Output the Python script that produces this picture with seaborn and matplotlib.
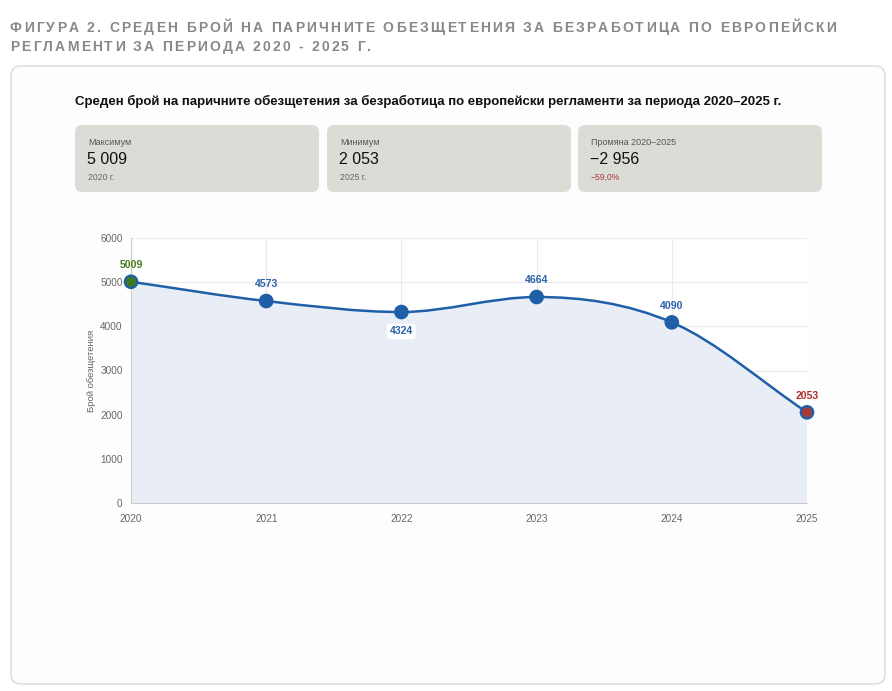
import numpy as np
import pandas as pd
import matplotlib
matplotlib.use("Agg")
import matplotlib.pyplot as plt
from matplotlib.patches import FancyBboxPatch, PathPatch
from matplotlib.path import Path
import seaborn as sns

# ---- data ----
years = [2020, 2021, 2022, 2023, 2024, 2025]
values = [5009, 4573, 4324, 4664, 4090, 2053]
point_kind = ["max", "mid", "mid", "mid", "mid", "min"]

fig_title = ["ФИГУРА 2. СРЕДЕН БРОЙ НА ПАРИЧНИТЕ ОБЕЗЩЕТЕНИЯ ЗА БЕЗРАБОТИЦА ПО ЕВРОПЕЙСКИ",
             "РЕГЛАМЕНТИ ЗА ПЕРИОДА 2020 - 2025 Г."]
chart_title = "Среден брой на паричните обезщетения за безработица по европейски регламенти за периода 2020–2025 г."
kpi_labels = ["Максимум", "Минимум", "Промяна 2020–2025"]
kpi_values = ["5 009", "2 053", "−2 956"]
kpi_notes = ["2020 г.", "2025 г.", "−59,0%"]
y_label = "Брой обезщетения"

sns.set_theme(style="white")
plt.rcParams["font.family"] = ["Liberation Sans", "DejaVu Sans"]

W, H = 892, 691
fig = plt.figure(figsize=(W / 100, H / 100), dpi=100)
fig.patch.set_facecolor("white")


def fx(x):
    return x / W


def fy(y):
    return 1 - y / H


BLUE = "#1f5fa8"
GREEN = "#3d7a1f"
RED = "#a83a3a"

# ---- header with letter spacing ----
renderer = fig.canvas.get_renderer()


def spaced_text(x0, y0, s, size, spacing, **kw):
    x = x0
    for ch in s:
        t = fig.text(fx(x), fy(y0), ch, fontsize=size, va="baseline", ha="left", **kw)
        if ch == " ":
            w = size / 0.72 * 0.28
        else:
            w = t.get_window_extent(renderer).width
        x += w + spacing


spaced_text(10, 32, fig_title[0], 10, 2.2, color="#888888", fontweight="bold")
spaced_text(10, 51, fig_title[1], 10, 2.2, color="#888888", fontweight="bold")

# ---- card ----
card = FancyBboxPatch((fx(11), fy(684)), fx(874), 618 / H,
                      boxstyle="round,pad=0,rounding_size=0.011",
                      transform=fig.transFigure, facecolor="#fdfdfd",
                      edgecolor="#d9d9d9", linewidth=1.0, mutation_aspect=W / H,
                      zorder=-2)
fig.patches.append(card)

fig.text(fx(75), fy(105), chart_title, fontsize=9.5, fontweight="bold", color="#111111")

# ---- KPI boxes ----
box_x = [75, 327, 578]
for i in range(3):
    b = FancyBboxPatch((fx(box_x[i]), fy(192)), fx(244), 67 / H,
                       boxstyle="round,pad=0,rounding_size=0.008",
                       transform=fig.transFigure, facecolor="#dcdcd6",
                       edgecolor="none", mutation_aspect=W / H, zorder=-1)
    fig.patches.append(b)
    fig.text(fx(box_x[i] + 13), fy(145), kpi_labels[i], fontsize=6.5, color="#555555")
    fig.text(fx(box_x[i] + 12), fy(164), kpi_values[i], fontsize=11.5, color="#111111")
    fig.text(fx(box_x[i] + 13), fy(180), kpi_notes[i], fontsize=6.2,
             color=RED if i == 2 else "#666666")

# ---- chart ----
ax = fig.add_axes([fx(131), fy(503), fx(676), 265 / H])
ax.set_facecolor("white")
ax.set_xlim(years[0], years[-1])
ax.set_ylim(0, 6000)

# monotone cubic path (Chart.js style)
xs = np.array(years, dtype=float)
ys = np.array(values, dtype=float)
d = np.diff(ys) / np.diff(xs)
m = np.zeros(len(xs))
m[0], m[-1] = d[0], d[-1]
for k in range(1, len(xs) - 1):
    m[k] = 0 if d[k - 1] * d[k] <= 0 else (d[k - 1] + d[k]) / 2
for k in range(len(d)):
    if d[k] == 0:
        m[k] = m[k + 1] = 0
        continue
    a, b = m[k] / d[k], m[k + 1] / d[k]
    if a * a + b * b > 9:
        tau = 3 / np.sqrt(a * a + b * b)
        m[k], m[k + 1] = tau * a * d[k], tau * b * d[k]

verts = [(xs[0], ys[0])]
codes = [Path.MOVETO]
for k in range(len(d)):
    dx = (xs[k + 1] - xs[k]) / 3
    verts += [(xs[k] + dx, ys[k] + m[k] * dx),
              (xs[k + 1] - dx, ys[k + 1] - m[k + 1] * dx),
              (xs[k + 1], ys[k + 1])]
    codes += [Path.CURVE4] * 3

fill_verts = verts + [(xs[-1], 0), (xs[0], 0), (xs[0], ys[0])]
fill_codes = codes + [Path.LINETO, Path.LINETO, Path.CLOSEPOLY]
ax.add_patch(PathPatch(Path(fill_verts, fill_codes), facecolor="#e9eef6",
                       edgecolor="none", zorder=1))
ax.add_patch(PathPatch(Path(verts, codes), facecolor="none", edgecolor=BLUE,
                       linewidth=1.8, zorder=3))

df = pd.DataFrame({"year": years, "value": values, "kind": point_kind})
sns.scatterplot(data=df, x="year", y="value", hue="kind",
                palette={"max": GREEN, "mid": BLUE, "min": RED},
                s=80, edgecolor=BLUE, linewidth=1.6, legend=False,
                zorder=4, clip_on=False, ax=ax)

for yr, v, kind in zip(years, values, point_kind):
    col = {"max": "#4a7a1a", "mid": "#2a62a8", "min": "#b03030"}[kind]
    if yr == 2022:
        ax.annotate(str(v), (yr, v), xytext=(0, -14), textcoords="offset points",
                    ha="center", va="center", fontsize=7.6, fontweight="bold", color=col,
                    bbox=dict(boxstyle="round,pad=0.25", fc="white", ec="none"), zorder=5)
    else:
        ax.annotate(str(v), (yr, v), xytext=(0, 12), textcoords="offset points",
                    ha="center", va="center", fontsize=7.6, fontweight="bold", color=col,
                    zorder=5, annotation_clip=False)

ax.set_xticks(years)
ax.set_yticks(range(0, 6001, 1000))
ax.tick_params(axis="both", labelsize=7.2, colors="#666666", length=0, pad=8)
ax.tick_params(axis="y", pad=6)
ax.grid(True, color="#ebebeb", linewidth=0.8)
ax.set_axisbelow(True)
for side in ["top", "right"]:
    ax.spines[side].set_visible(False)
for side in ["left", "bottom"]:
    ax.spines[side].set_color("#cccccc")
    ax.spines[side].set_linewidth(0.8)
ax.set_xlabel("")
ax.set_ylabel(y_label, fontsize=6.8, color="#666666", labelpad=3)

fig.savefig("out.png", dpi=100, facecolor="white")
